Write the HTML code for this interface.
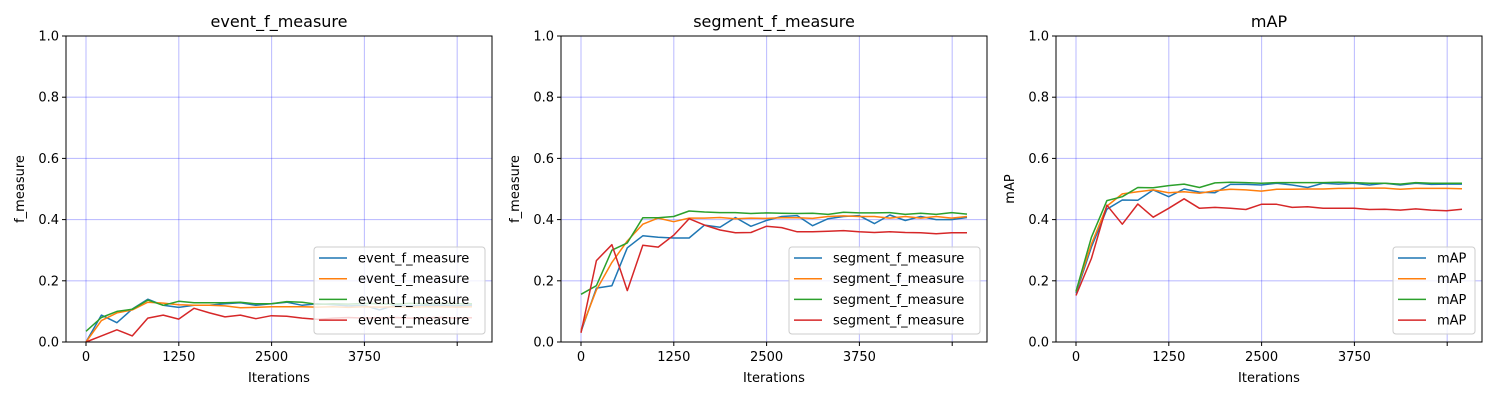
<!DOCTYPE html>
<html><head><meta charset="utf-8"><style>
html,body{margin:0;padding:0;background:#fff;}
svg{display:block;font-family:"DejaVu Sans","Liberation Sans",sans-serif;}
</style></head><body>
<svg id="fig" width="1500" height="400" viewBox="0 0 1500 400" xmlns="http://www.w3.org/2000/svg"></svg>
<script>
const iterations = Array.from({length:26},(_,i)=>i*208);
const xTicks = [0,1250,2500,3750,5000];
const xTickLabels = ['0','1250','2500','3750',''];
const yTicks = [0,0.2,0.4,0.6,0.8,1.0];
const yTickLabels = ['0.0','0.2','0.4','0.6','0.8','1.0'];
const colors = ['#1f77b4','#ff7f0e','#2ca02c','#d62728'];

const eventBlue   = [0,0.088,0.063,0.108,0.14,0.12,0.113,0.12,0.12,0.125,0.128,0.12,0.125,0.13,0.12,0.125,0.122,0.118,0.12,0.105,0.12,0.118,0.12,0.12,0.118,0.12];
const eventOrange = [0,0.07,0.095,0.105,0.13,0.127,0.122,0.12,0.12,0.118,0.112,0.113,0.115,0.115,0.115,0.114,0.115,0.113,0.115,0.114,0.115,0.114,0.115,0.115,0.114,0.115];
const eventGreen  = [0.035,0.08,0.1,0.107,0.137,0.12,0.133,0.128,0.128,0.128,0.13,0.125,0.125,0.132,0.13,0.123,0.125,0.124,0.126,0.125,0.124,0.126,0.125,0.126,0.125,0.125];
const eventRed    = [0,0.02,0.04,0.02,0.078,0.088,0.075,0.11,0.095,0.082,0.088,0.076,0.086,0.084,0.078,0.074,0.078,0.08,0.078,0.079,0.08,0.078,0.079,0.08,0.078,0.079];

const segBlue   = [0.034,0.176,0.184,0.308,0.347,0.342,0.34,0.34,0.382,0.375,0.407,0.378,0.397,0.41,0.413,0.38,0.403,0.41,0.413,0.387,0.415,0.397,0.41,0.4,0.4,0.407];
const segOrange = [0.04,0.17,0.26,0.33,0.385,0.405,0.393,0.405,0.405,0.407,0.403,0.405,0.404,0.406,0.406,0.404,0.41,0.412,0.41,0.41,0.405,0.41,0.405,0.41,0.405,0.41];
const segGreen  = [0.156,0.184,0.3,0.324,0.406,0.406,0.41,0.428,0.425,0.423,0.423,0.42,0.422,0.421,0.42,0.421,0.417,0.424,0.422,0.422,0.423,0.417,0.421,0.417,0.423,0.418];
const segRed    = [0.03,0.266,0.318,0.168,0.316,0.31,0.349,0.403,0.382,0.366,0.357,0.358,0.378,0.374,0.36,0.36,0.362,0.364,0.36,0.358,0.36,0.358,0.357,0.354,0.357,0.357];

const mapBlue   = [0.159,0.31,0.434,0.464,0.463,0.497,0.475,0.5,0.49,0.488,0.515,0.515,0.513,0.519,0.513,0.505,0.519,0.516,0.519,0.513,0.519,0.513,0.519,0.515,0.516,0.516];
const mapOrange = [0.165,0.32,0.444,0.484,0.491,0.497,0.488,0.491,0.486,0.494,0.499,0.497,0.493,0.499,0.499,0.5,0.5,0.502,0.502,0.503,0.503,0.499,0.502,0.502,0.502,0.501];
const mapGreen  = [0.165,0.342,0.462,0.475,0.505,0.504,0.511,0.516,0.505,0.52,0.522,0.521,0.519,0.521,0.521,0.521,0.521,0.522,0.521,0.519,0.519,0.516,0.521,0.519,0.519,0.519];
const mapRed    = [0.152,0.273,0.447,0.385,0.451,0.408,0.437,0.468,0.437,0.44,0.437,0.433,0.45,0.45,0.44,0.442,0.437,0.437,0.437,0.433,0.434,0.431,0.435,0.431,0.429,0.434];

const NS='http://www.w3.org/2000/svg';
const fig=document.getElementById('fig');
function mk(tag,attrs,parent){const e=document.createElementNS(NS,tag);for(const k in attrs)e.setAttribute(k,attrs[k]);(parent||fig).appendChild(e);return e;}

const panels=[
 {left:66,title:'event_f_measure',ylabel:'f_measure',series:[eventBlue,eventOrange,eventGreen,eventRed],legW:171,slug:'event'},
 {left:561,title:'segment_f_measure',ylabel:'f_measure',series:[segBlue,segOrange,segGreen,segRed],legW:191,slug:'segment'},
 {left:1056,title:'mAP',ylabel:'mAP',series:[mapBlue,mapOrange,mapGreen,mapRed],legW:82,slug:'map'}
];
const topY=36,botY=342,W=426;
panels.forEach(p=>{
  const L=p.left,R=L+W;
  const xs=v=>L+20+v*(92.8/1250);
  const ys=v=>botY-v*(botY-topY);
  const g=mk('g',{});
  
  
  xTicks.forEach(t=>{const l=mk('line',{x1:xs(t),x2:xs(t),y1:topY,y2:botY,stroke:'rgba(0,0,255,0.25)','stroke-width':1.1},g);
    
    });
  yTicks.forEach(t=>{const l=mk('line',{x1:L,x2:R,y1:ys(t),y2:ys(t),stroke:'rgba(0,0,255,0.25)','stroke-width':1.1},g);
    
    });
  p.series.forEach((s,si)=>{
    const pts=s.map((v,i)=>xs(iterations[i]).toFixed(1)+','+ys(v).toFixed(1)).join(' ');
    const pl=mk('polyline',{points:pts,fill:'none',stroke:colors[si],'stroke-width':1.5,'stroke-linejoin':'round'},g);
    
    
  });
  const fr=mk('rect',{x:L,y:topY,width:W,height:botY-topY,fill:'none',stroke:'#000','stroke-width':1},g);
  
  
  xTicks.forEach((t,i)=>{mk('line',{x1:xs(t),x2:xs(t),y1:botY,y2:botY+4,stroke:'#000'},g);
    const tx=mk('text',{x:xs(t),y:botY+19,'font-size':'13','text-anchor':'middle'},g);tx.textContent=xTickLabels[i];
    
    });
  yTicks.forEach((t,i)=>{mk('line',{x1:L-4,x2:L,y1:ys(t),y2:ys(t),stroke:'#000'},g);
    const tx=mk('text',{x:L-7,y:ys(t)+4.5,'font-size':'13','text-anchor':'end'},g);tx.textContent=yTickLabels[i];
    
    });
  const ti=mk('text',{x:L+W/2,y:27,'font-size':'16','text-anchor':'middle'},g);ti.textContent=p.title;
  
  
  const xl=mk('text',{x:L+W/2,y:382,'font-size':'13','text-anchor':'middle'},g);xl.textContent='Iterations';
  
  
  const yl=mk('text',{x:0,y:0,'font-size':'13','text-anchor':'middle',transform:`translate(${L-42},${(topY+botY)/2}) rotate(-90)`},g);yl.textContent=p.ylabel;
  
  
  const lx=R-7-p.legW, ly=247;
  const lg=mk('g',{},g);
  
  
  mk('rect',{x:lx,y:ly,width:p.legW,height:87,rx:3,fill:'rgba(255,255,255,0.8)',stroke:'#ccc'},lg);
  colors.forEach((c,i)=>{const yy=ly+11+i*20.7;
    mk('line',{x1:lx+5,x2:lx+33,y1:yy,y2:yy,stroke:c,'stroke-width':1.5},lg);
    const t=mk('text',{x:lx+44,y:yy+4.5,'font-size':'13'},lg);t.textContent=p.title;
    
    });
});
</script>
</body></html>
